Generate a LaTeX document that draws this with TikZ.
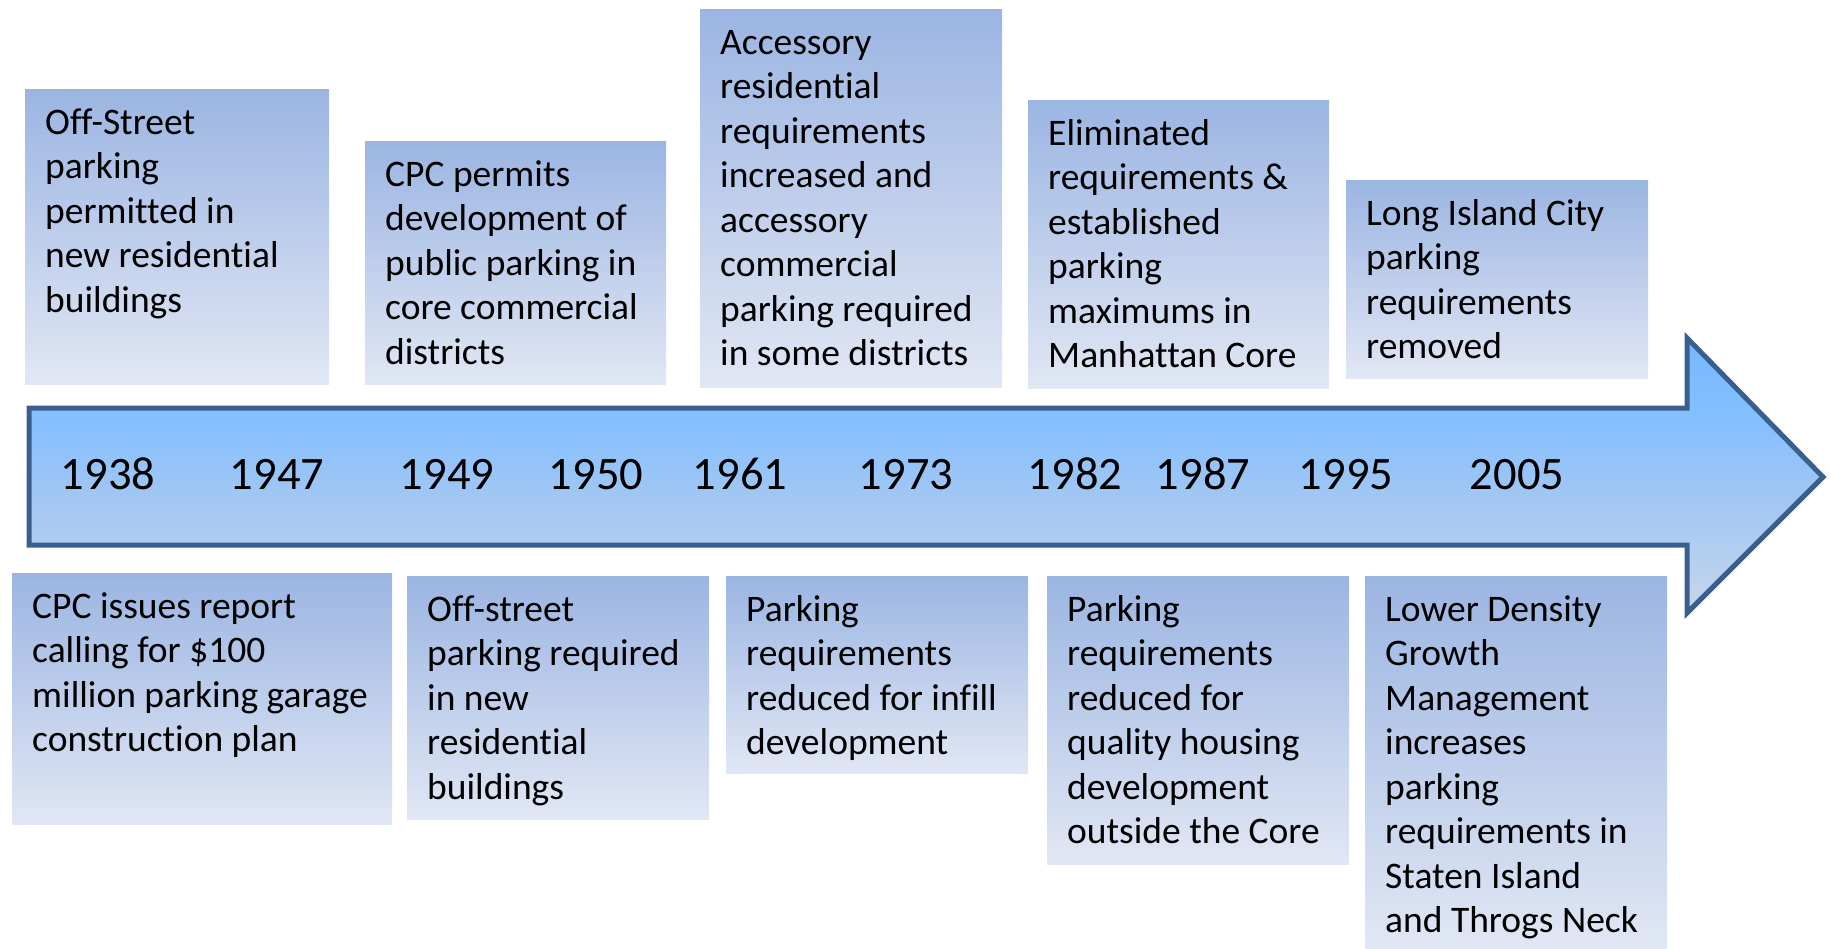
\documentclass[tikz,border=0pt]{standalone}
\usepackage{fontspec}
\setmainfont[Ligatures=NoCommon]{Carlito}
\definecolor{boxtop}{RGB}{155,181,226}
\definecolor{boxbottom}{RGB}{225,231,244}
\definecolor{arrowline}{RGB}{59,95,140}
\pgfdeclareverticalshading{timeline}{100bp}{rgb(0bp)=(0.96,0.90,0.96); rgb(25bp)=(0.78,0.84,0.92); rgb(45bp)=(0.64,0.78,0.95); rgb(60bp)=(0.52,0.75,1.0); rgb(75bp)=(0.47,0.72,1.0); rgb(100bp)=(0.40,0.63,1.0)}
\tikzset{
  evbox/.style={top color=boxtop, bottom color=boxbottom, inner sep=0pt, outer sep=0pt},
  evtext/.style={font=\fontsize{37.5}{44.5}\selectfont, align=left, inner sep=0pt, text=black},
  year/.style={font=\fontsize{46.5}{50}\selectfont, anchor=base, inner sep=0pt}
}
% name, left, top, right, bottom, text
\newcommand\eventbox[6]{%
  \node[evbox, minimum width={#4-#2}, minimum height={#5-#3}, anchor=north west] (#1) at (#2,#3) {};
  \node[evtext, anchor=north west] (#1t) at ([xshift=20pt,yshift=-14pt]#1.north west) {\strut #6};
}
\begin{document}
\begin{tikzpicture}[x=1pt,y=-1pt]
\useasboundingbox (0,0) rectangle (1831,948);

% events above the timeline
\eventbox{e1938}{25}{89}{329}{384}{Off-Street\\parking\\permitted in\\new residential\\buildings}
\eventbox{e1949}{365}{141}{666}{384}{CPC permits\\development of\\public parking in\\core commercial\\districts}
\eventbox{e1961}{700}{9}{1002}{387}{Accessory\\residential\\requirements\\increased and\\accessory\\commercial\\parking required\\in some districts}
\eventbox{e1982}{1028}{100}{1329}{388}{Eliminated\\requirements \&\\established\\parking\\maximums in\\Manhattan Core}
\eventbox{e2005}{1346}{180}{1648}{378}{Long Island City\\parking\\requirements\\removed}

% events below the timeline
\eventbox{e1947}{12}{573}{392}{824}{CPC issues report\\calling for \$100\\million parking garage\\construction plan}
\eventbox{e1950}{407}{576}{709}{819}{Off-street\\parking required\\in new\\residential\\buildings}
\eventbox{e1973}{726}{576}{1028}{773}{Parking\\requirements\\reduced for infill\\development}
\eventbox{e1987}{1047}{576}{1349}{864}{Parking\\requirements\\reduced for\\quality housing\\development\\outside the Core}
\eventbox{e1995}{1365}{576}{1667}{948}{Lower Density\\Growth\\Management\\increases\\parking\\requirements in\\Staten Island\\and Throgs Neck}

% the timeline arrow
\shade[shading=timeline, draw=arrowline, line width=5pt, miter limit=10]
  (29,408) -- (1687,408) -- (1687,338) -- (1823,477) -- (1687,613) -- (1687,545) -- (29,545) -- cycle;

% years along the arrow
\node[year] (y1938) at (108,489) {1938};
\node[year] (y1947) at (277,489) {1947};
\node[year] (y1949) at (447,489) {1949};
\node[year] (y1950) at (596,489) {1950};
\node[year] (y1961) at (740,489) {1961};
\node[year] (y1973) at (906,489) {1973};
\node[year] (y1982) at (1075,489) {1982};
\node[year] (y1987) at (1203,489) {1987};
\node[year] (y1995) at (1346,489) {1995};
\node[year] (y2005) at (1517,489) {2005};
\end{tikzpicture}
\end{document}
